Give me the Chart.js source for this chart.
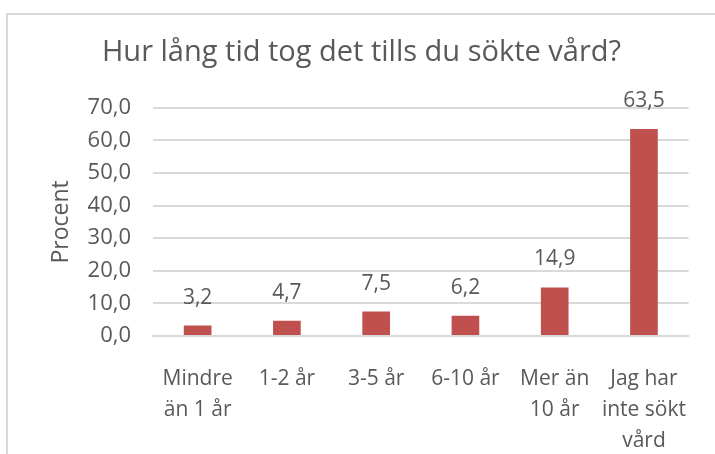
<!DOCTYPE html>
<html>
<head>
<meta charset="utf-8">
<script src="https://cdn.jsdelivr.net/npm/chart.js@4/dist/chart.umd.min.js"></script>
<style>
  html, body { margin: 0; padding: 0; background: #ffffff; }
  #wrap { position: relative; width: 715px; height: 454px; overflow: hidden; }
  #frame { position: absolute; left: 6px; top: 13px; width: 800px; height: 600px; border: 2px solid #d9d9d9; box-sizing: border-box; }
  canvas { position: absolute; left: 0; top: 0; }
</style>
</head>
<body>
<div id="wrap">
  <div id="frame"></div>
  <canvas id="c" width="715" height="454"></canvas>
</div>
<script>
const chartTitle = "Hur lång tid tog det tills du sökte vård?";
const yAxisTitle = "Procent";
const categories = [
  ["Mindre", "än 1 år"],
  ["1-2 år"],
  ["3-5 år"],
  ["6-10 år"],
  ["Mer än", "10 år"],
  ["Jag har", "inte sökt", "vård"]
];
const values = [3.2, 4.7, 7.5, 6.2, 14.9, 63.5];
const yMin = 0, yMax = 70, yStep = 10;

const fmt = v => v.toFixed(1).replace('.', ',');
const FONT = "'Open Sans', 'Liberation Sans', sans-serif";
const TXT = '#595959';

const dataLabels = {
  id: 'dataLabels',
  afterDatasetsDraw(chart) {
    const ctx = chart.ctx;
    const meta = chart.getDatasetMeta(0);
    ctx.save();
    ctx.font = "21px " + FONT;
    ctx.fillStyle = TXT;
    ctx.textAlign = 'center';
    ctx.textBaseline = 'middle';
    meta.data.forEach((bar, i) => {
      ctx.fillText(fmt(values[i]), bar.x, bar.y - 28);
    });
    ctx.restore();
  }
};

new Chart(document.getElementById('c'), {
  type: 'bar',
  data: {
    labels: categories,
    datasets: [{
      data: values,
      backgroundColor: '#c0504d',
      borderWidth: 0,
      barPercentage: 0.31,
      categoryPercentage: 1.0
    }]
  },
  options: {
    responsive: false,
    animation: false,
    devicePixelRatio: 1,
    layout: { padding: { left: 32, right: 24, top: 0, bottom: 0 } },
    plugins: {
      legend: { display: false },
      tooltip: { enabled: false },
      title: {
        display: true,
        text: chartTitle,
        color: TXT,
        font: { family: FONT, size: 29, weight: 'normal' },
        padding: { top: 35, bottom: 38 }
      }
    },
    scales: {
      x: {
        afterFit(scale) { scale.height = 118; },
        grid: { display: false, drawTicks: false },
        border: { display: true, color: '#d9d9d9', width: 2 },
        ticks: {
          color: TXT,
          font: { family: FONT, size: 21, lineHeight: 1.48 },
          padding: 27,
          maxRotation: 0,
          autoSkip: false
        }
      },
      y: {
        min: yMin, max: yMax,
        afterFit(scale) { scale.width = 121; },
        grid: { color: '#d9d9d9', lineWidth: 2, drawTicks: false },
        border: { display: false },
        ticks: {
          stepSize: yStep,
          color: TXT,
          font: { family: FONT, size: 22 },
          padding: 22,
          callback: v => fmt(v)
        },
        title: {
          display: true,
          text: yAxisTitle,
          color: TXT,
          font: { family: FONT, size: 23, weight: 'normal' },
          padding: { top: 16, bottom: 0 }
        }
      }
    }
  },
  plugins: [dataLabels]
});
</script>
</body>
</html>
